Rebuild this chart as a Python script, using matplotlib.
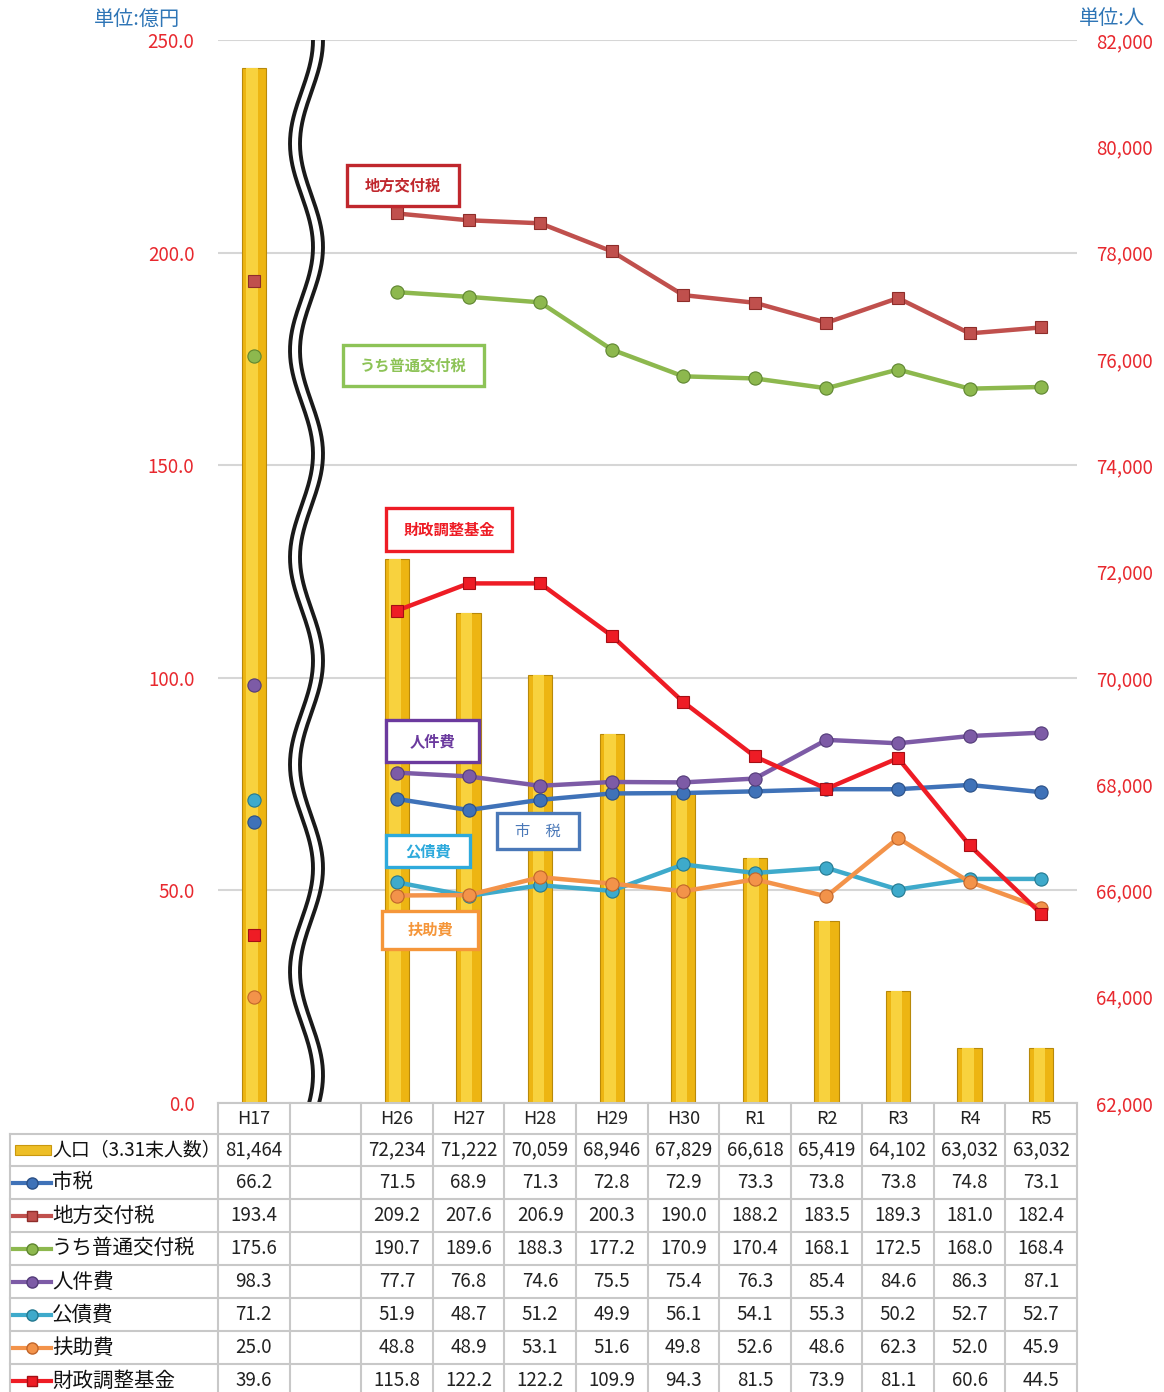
import numpy as np
import matplotlib
matplotlib.use('Agg')
import matplotlib.pyplot as plt
from matplotlib.patches import Rectangle
from matplotlib.ticker import FuncFormatter

plt.rcParams['font.family'] = ['Noto Sans CJK JP', 'DejaVu Sans']

nan = np.nan
categories = ['H17', '', 'H26', 'H27', 'H28', 'H29', 'H30', 'R1', 'R2', 'R3', 'R4', 'R5']
population = [81464, nan, 72234, 71222, 70059, 68946, 67829, 66618, 65419, 64102, 63032, 63032]
shizei = [66.2, nan, 71.5, 68.9, 71.3, 72.8, 72.9, 73.3, 73.8, 73.8, 74.8, 73.1]
chiho_kofu = [193.4, nan, 209.2, 207.6, 206.9, 200.3, 190.0, 188.2, 183.5, 189.3, 181.0, 182.4]
futsu_kofu = [175.6, nan, 190.7, 189.6, 188.3, 177.2, 170.9, 170.4, 168.1, 172.5, 168.0, 168.4]
jinkenhi = [98.3, nan, 77.7, 76.8, 74.6, 75.5, 75.4, 76.3, 85.4, 84.6, 86.3, 87.1]
kosaihi = [71.2, nan, 51.9, 48.7, 51.2, 49.9, 56.1, 54.1, 55.3, 50.2, 52.7, 52.7]
fujohi = [25.0, nan, 48.8, 48.9, 53.1, 51.6, 49.8, 52.6, 48.6, 62.3, 52.0, 45.9]
zaisei_kikin = [39.6, nan, 115.8, 122.2, 122.2, 109.9, 94.3, 81.5, 73.9, 81.1, 60.6, 44.5]

pop_label = '人口（3.31末人数）'
series_names = ['市税', '地方交付税', 'うち普通交付税', '人件費', '公債費', '扶助費', '財政調整基金']
series_values = [shizei, chiho_kofu, futsu_kofu, jinkenhi, kosaihi, fujohi, zaisei_kikin]
series_colors = ['#3F72B8', '#C0504D', '#8DB84E', '#7D5BA6', '#3EAACB', '#F3934A', '#EE1C25']
series_edge = ['#2A4F85', '#8E2D2A', '#5E8530', '#533B78', '#23788F', '#C0652A', '#A50E14']
series_markers = ['o', 's', 'o', 'o', 'o', 'o', 's']

W, H = 1164, 1392
L, R, T, B = 218, 1077, 40, 1103
fig = plt.figure(figsize=(W / 100, H / 100), dpi=100)
ax2 = fig.add_axes([L / W, (H - B) / H, (R - L) / W, (B - T) / H])
ax = ax2.twinx()
ax.yaxis.set_ticks_position('left')
ax.yaxis.set_label_position('left')
ax2.yaxis.set_ticks_position('right')
ax.set_zorder(ax2.get_zorder() + 1)
ax.patch.set_visible(False)

x = np.arange(len(categories))
xmin, xmax = -0.5, len(categories) - 0.5

# population bars (right axis)
ax2.set_ylim(62000, 82000)
ax2.set_xlim(xmin, xmax)
for yv in np.arange(62000, 82001, 4000):
    ax2.axhline(yv, color='#D6D6D6', lw=1.5, zorder=0)
ax2.bar(x, population, width=0.34, color='#EDB512', edgecolor='#B8890A', lw=0.8, zorder=2)
ax2.bar(x - 0.025, population, width=0.16, color='#F8D23E', lw=0, zorder=3)
ax2.set_yticks(np.arange(62000, 82001, 2000))
ax2.yaxis.set_major_formatter(FuncFormatter(lambda v, p: f'{int(v):,}'))
ax2.tick_params(axis='y', length=0, pad=14, labelsize=13.5, labelcolor='#E8282E')
ax2.set_xticks([])

# lines (left axis)
ax.set_ylim(0, 250)
ax.set_xlim(xmin, xmax)
for vals, c, ec, m in zip(series_values, series_colors, series_edge, series_markers):
    ax.plot(x, vals, color=c, lw=3.2, marker=m, markersize=9.5 if m == 'o' else 9,
            markerfacecolor=c, markeredgecolor=ec, markeredgewidth=0.8, zorder=3)
ax.set_yticks(np.arange(0, 251, 50))
ax.yaxis.set_major_formatter(FuncFormatter(lambda v, p: f'{v:.1f}'))
ax.tick_params(axis='y', length=0, pad=17, labelsize=13.5, labelcolor='#E8282E')
ax.set_xticks([])
for a in (ax, ax2):
    for s in a.spines.values():
        s.set_visible(False)

# wavy axis break (decoration)
yy = np.linspace(T, B, 400)
xx = 301.5 + 11.5 * np.cos(2 * np.pi * (yy - T) / 207)
for off in (0, 10):
    ax.plot((xx + off - L) / (R - L), (B - yy) / (B - T), transform=ax.transAxes,
            color='#1A1A1A', lw=2.8, zorder=4, clip_on=True)

# overlay in pixel coordinates for boxes and table
tab = fig.add_axes([0, 0, 1, 1])
tab.set_xlim(0, W)
tab.set_ylim(H, 0)
tab.axis('off')
tab.set_zorder(10)

fig.text(137 / W, 1 - 19 / H, '単位:億円', color='#2E75B6', fontsize=14.5, ha='center', va='center')
fig.text(1112 / W, 1 - 18 / H, '単位:人', color='#2E75B6', fontsize=14.5, ha='center', va='center')

boxes = [
    ('地方交付税', 347, 165, 459, 206, '#C0272D', True),
    ('うち普通交付税', 343, 345, 484, 386, '#8DC357', True),
    ('財政調整基金', 386, 508, 512, 551, '#EE1C25', True),
    ('人件費', 386, 720, 479, 762, '#6B3A9E', True),
    ('市\u3000税', 497, 813, 579, 849, '#4A78B8', False),
    ('公債費', 386, 835, 470, 867, '#2EAADC', True),
    ('扶助費', 382, 911, 478, 949, '#F5963A', True),
]
for txt, x0, y0, x1, y1, c, bold in boxes:
    tab.add_patch(Rectangle((x0, y0), x1 - x0, y1 - y0, facecolor='white', edgecolor=c, lw=2.4, zorder=5))
    tab.text((x0 + x1) / 2, (y0 + y1) / 2, txt, color=c, fontsize=11, ha='center', va='center',
             fontweight='bold' if bold else 'normal', zorder=6)

# data table
ncol = len(categories)
cw = (R - L) / ncol
def colx(i):
    return L + (i - xmin) * cw

row_edges = [1103, 1134, 1166, 1199, 1232, 1265, 1298, 1331, 1364, 1397]
gc = '#C8C8C8'
tab.plot([L, R], [row_edges[0], row_edges[0]], color=gc, lw=1.5)
for ye in row_edges[1:]:
    tab.plot([10, R], [ye, ye], color=gc, lw=1.5)
tab.plot([10, 10], [row_edges[1], H], color=gc, lw=1.5)
for k in range(ncol + 1):
    xe = L + k * cw
    tab.plot([xe, xe], [row_edges[0], H], color=gc, lw=1.5)

hy = (row_edges[0] + row_edges[1]) / 2
for i, c in enumerate(categories):
    tab.text(colx(i), hy, c, fontsize=13, ha='center', va='center', color='#222222')

rows = [(pop_label, population, None)] + [(n, v, i) for i, (n, v) in enumerate(zip(series_names, series_values))]
for r, (name, vals, si) in enumerate(rows):
    yc = (row_edges[r + 1] + row_edges[r + 2]) / 2
    if si is None:
        tab.add_patch(Rectangle((15, yc - 5), 36, 10, facecolor='#EDBE26', edgecolor='#C9980E', lw=0.8))
        for i, v in enumerate(vals):
            if not np.isnan(v):
                tab.text(colx(i), yc, f'{int(v):,}', fontsize=13.5, ha='center', va='center', color='#222222')
        lab_fs = 13.6
    else:
        tab.plot([13, 51], [yc, yc], color=series_colors[si], lw=3)
        tab.plot([32], [yc], marker=series_markers[si], color=series_colors[si],
                 markeredgecolor=series_edge[si], markersize=8 if series_markers[si] == 'o' else 7.5)
        for i, v in enumerate(vals):
            if not np.isnan(v):
                tab.text(colx(i), yc, f'{v:.1f}', fontsize=13.5, ha='center', va='center', color='#222222')
        lab_fs = 14.8
    tab.text(52, yc, name, fontsize=lab_fs, ha='left', va='center', color='#111111')

fig.savefig('out.png', dpi=100)
